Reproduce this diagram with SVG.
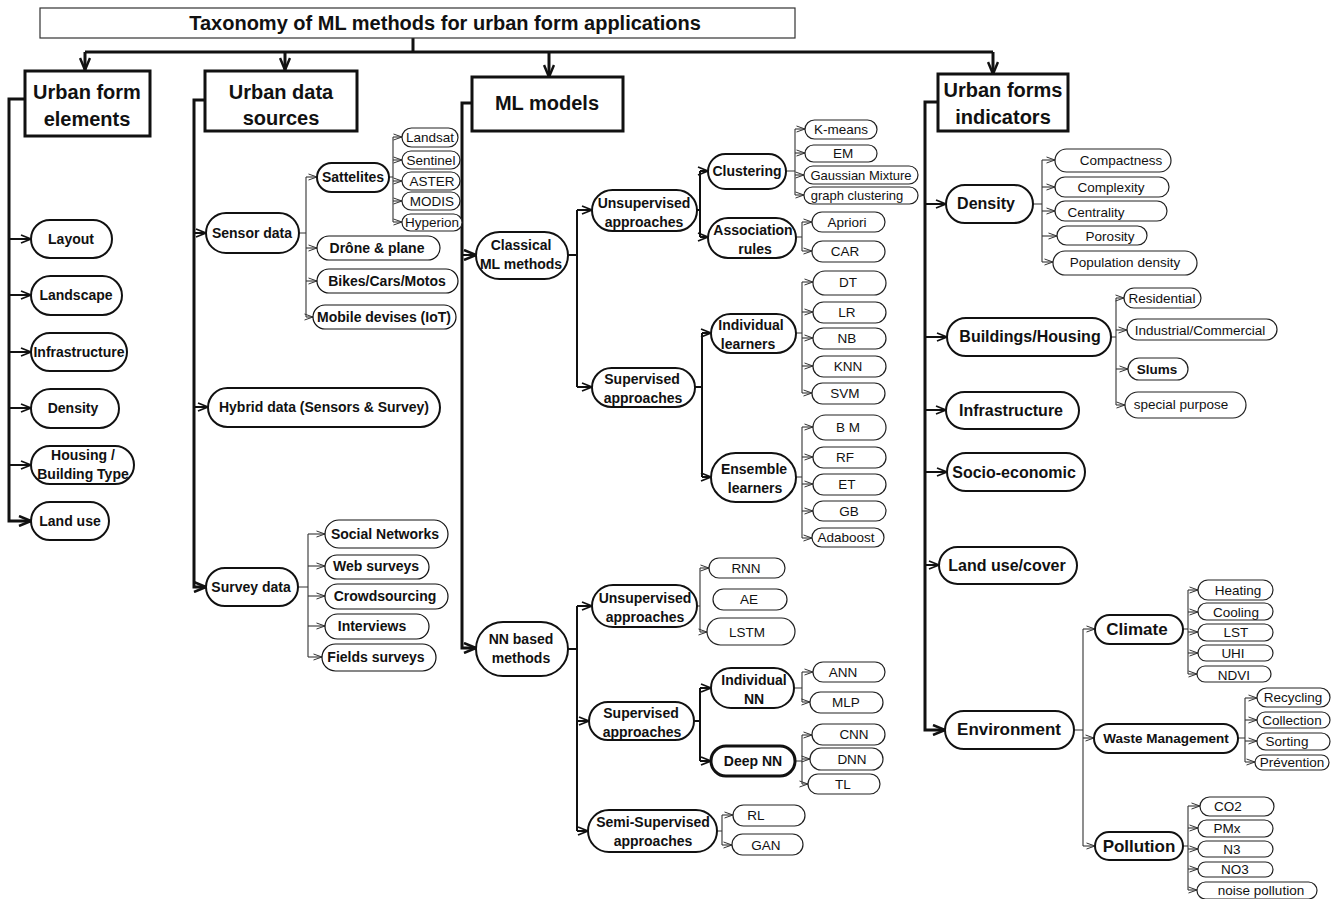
<svg xmlns="http://www.w3.org/2000/svg" width="1333" height="899" viewBox="0 0 1333 899">
<defs>
<style>
text{font-family:"Liberation Sans",Arial,sans-serif;text-anchor:middle;fill:#111}
.hdr rect{fill:#fff;stroke:#111;stroke-width:3}
.hdr text{font-size:20px;font-weight:bold}
.ttl rect{fill:#fff;stroke:#333;stroke-width:1.2}
.n rect{fill:#fff;stroke:#111;stroke-width:2}
.n text{font-size:14px;font-weight:bold}
.k rect{fill:#fff;stroke:#111;stroke-width:2}
.k text{font-size:16px;font-weight:bold}
.l rect{fill:#fff;stroke:#222;stroke-width:1.2}
.l text{font-size:13.5px}
.thick rect{stroke-width:3}
.c3{fill:none;stroke:#111;stroke-width:3}
.c2{fill:none;stroke:#111;stroke-width:2}
.c1{fill:none;stroke:#333;stroke-width:1.1}
</style>
<marker id="ahL" viewBox="0 0 14 12" refX="13" refY="6" markerWidth="14" markerHeight="12" markerUnits="userSpaceOnUse" orient="auto"><path d="M1,1 L13,6 L1,11" fill="none" stroke="#111" stroke-width="2.5"/></marker>
<marker id="ahM" viewBox="0 0 12 10" refX="11" refY="5" markerWidth="12" markerHeight="10" markerUnits="userSpaceOnUse" orient="auto"><path d="M1,1 L11,5 L1,9" fill="none" stroke="#111" stroke-width="1.8"/></marker>
<marker id="ahS" viewBox="0 0 10 8" refX="9.5" refY="4" markerWidth="10" markerHeight="8" markerUnits="userSpaceOnUse" orient="auto"><path d="M1,1 L9.5,4 L1,7" fill="none" stroke="#333" stroke-width="1"/></marker>
</defs>
<rect width="1333" height="899" fill="#fff"/>

<!-- connectors -->
<g id="connectors">
  <!-- title to the four branches -->
  <path class="c3" d="M413,38 V52 M85,52 H993"/>
  <path class="c3" marker-end="url(#ahL)" d="M85,52 V70"/>
  <path class="c3" marker-end="url(#ahL)" d="M285,52 V70"/>
  <path class="c3" marker-end="url(#ahL)" d="M549,52 V77"/>
  <path class="c3" marker-end="url(#ahL)" d="M993,52 V74"/>

  <!-- urban form elements -->
  <path class="c3" marker-end="url(#ahL)" d="M25,99 H9 V521 H31"/>
  <path class="c2" marker-end="url(#ahM)" d="M9,239 H31"/>
  <path class="c2" marker-end="url(#ahM)" d="M9,295 H31"/>
  <path class="c2" marker-end="url(#ahM)" d="M9,352 H31"/>
  <path class="c2" marker-end="url(#ahM)" d="M9,408 H31"/>
  <path class="c2" marker-end="url(#ahM)" d="M9,465 H31"/>

  <!-- urban data sources -->
  <path class="c3" marker-end="url(#ahL)" d="M205,100 H194 V587 H206"/>
  <path class="c2" marker-end="url(#ahM)" d="M194,233 H206"/>
  <path class="c2" marker-end="url(#ahM)" d="M194,407 H208"/>
  <path class="c1" d="M299,233 H306 M306,177 V317"/>
  <path class="c1" marker-end="url(#ahS)" d="M306,177 H317"/>
  <path class="c1" marker-end="url(#ahS)" d="M306,248 H317"/>
  <path class="c1" marker-end="url(#ahS)" d="M306,281 H317"/>
  <path class="c1" marker-end="url(#ahS)" d="M306,317 H313"/>
  <path class="c1" d="M389,177 H393 M393,137 V222"/>
  <path class="c1" marker-end="url(#ahS)" d="M393,137 H402"/>
  <path class="c1" marker-end="url(#ahS)" d="M393,160 H402"/>
  <path class="c1" marker-end="url(#ahS)" d="M393,181 H402"/>
  <path class="c1" marker-end="url(#ahS)" d="M393,201 H402"/>
  <path class="c1" marker-end="url(#ahS)" d="M393,222 H402"/>
  <path class="c1" d="M298,587 H308 M308,534 V657"/>
  <path class="c1" marker-end="url(#ahS)" d="M308,534 H325"/>
  <path class="c1" marker-end="url(#ahS)" d="M308,566 H325"/>
  <path class="c1" marker-end="url(#ahS)" d="M308,596 H325"/>
  <path class="c1" marker-end="url(#ahS)" d="M308,626 H325"/>
  <path class="c1" marker-end="url(#ahS)" d="M308,657 H322"/>

  <!-- ML models -->
  <path class="c3" marker-end="url(#ahL)" d="M472,103 H462 V648 H476"/>
  <path class="c2" marker-end="url(#ahL)" d="M462,255 H476"/>
  <path class="c2" d="M568,255 H577 M577,210 V387"/>
  <path class="c2" marker-end="url(#ahM)" d="M577,210 H592"/>
  <path class="c2" marker-end="url(#ahM)" d="M577,387 H592"/>
  <path class="c2" d="M697,210 H700 M700,171 V237"/>
  <path class="c2" marker-end="url(#ahM)" d="M700,171 H708"/>
  <path class="c2" marker-end="url(#ahM)" d="M700,237 H708"/>
  <path class="c1" d="M786,171 H795 M795,129 V195"/>
  <path class="c1" marker-end="url(#ahS)" d="M795,129 H805"/>
  <path class="c1" marker-end="url(#ahS)" d="M795,153 H805"/>
  <path class="c1" marker-end="url(#ahS)" d="M795,175 H804"/>
  <path class="c1" marker-end="url(#ahS)" d="M795,195 H804"/>
  <path class="c1" d="M796,237 H802 M802,222 V251"/>
  <path class="c1" marker-end="url(#ahS)" d="M802,222 H812"/>
  <path class="c1" marker-end="url(#ahS)" d="M802,251 H812"/>
  <path class="c2" d="M695,387 H702 M702,333 V477"/>
  <path class="c2" marker-end="url(#ahM)" d="M702,333 H711"/>
  <path class="c2" marker-end="url(#ahM)" d="M702,477 H711"/>
  <path class="c1" d="M796,333 H802 M802,282 V393"/>
  <path class="c1" marker-end="url(#ahS)" d="M802,282 H813"/>
  <path class="c1" marker-end="url(#ahS)" d="M802,312 H813"/>
  <path class="c1" marker-end="url(#ahS)" d="M802,338 H813"/>
  <path class="c1" marker-end="url(#ahS)" d="M802,366 H813"/>
  <path class="c1" marker-end="url(#ahS)" d="M802,393 H812"/>
  <path class="c1" d="M796,477 H802 M802,427 V538"/>
  <path class="c1" marker-end="url(#ahS)" d="M802,427 H813"/>
  <path class="c1" marker-end="url(#ahS)" d="M802,457 H813"/>
  <path class="c1" marker-end="url(#ahS)" d="M802,484 H813"/>
  <path class="c1" marker-end="url(#ahS)" d="M802,511 H813"/>
  <path class="c1" marker-end="url(#ahS)" d="M802,538 H812"/>

  <path class="c2" d="M568,649 H577 M577,606 V831"/>
  <path class="c2" marker-end="url(#ahM)" d="M577,606 H592"/>
  <path class="c2" marker-end="url(#ahM)" d="M577,721 H589"/>
  <path class="c2" marker-end="url(#ahM)" d="M577,831 H588"/>
  <path class="c1" d="M697,606 H700 M700,568 V632"/>
  <path class="c1" marker-end="url(#ahS)" d="M700,568 H709"/>
  <path class="c1" marker-end="url(#ahS)" d="M700,632 H707"/>
  <path class="c2" d="M694,721 H700 M700,688 V761"/>
  <path class="c2" marker-end="url(#ahM)" d="M700,688 H711"/>
  <path class="c2" marker-end="url(#ahM)" d="M700,761 H711"/>
  <path class="c1" d="M794,688 H802 M802,672 V702"/>
  <path class="c1" marker-end="url(#ahS)" d="M802,672 H813"/>
  <path class="c1" marker-end="url(#ahS)" d="M802,702 H810"/>
  <path class="c1" d="M795,761 H802 M802,735 V784"/>
  <path class="c1" marker-end="url(#ahS)" d="M802,735 H812"/>
  <path class="c1" marker-end="url(#ahS)" d="M802,759 H810"/>
  <path class="c1" marker-end="url(#ahS)" d="M802,784 H808"/>
  <path class="c1" d="M717,831 H722 M722,815 V845"/>
  <path class="c1" marker-end="url(#ahS)" d="M722,815 H733"/>
  <path class="c1" marker-end="url(#ahS)" d="M722,845 H732"/>

  <!-- urban forms indicators -->
  <path class="c3" marker-end="url(#ahL)" d="M938,102 H925 V730 H945"/>
  <path class="c2" marker-end="url(#ahM)" d="M925,204 H946"/>
  <path class="c2" marker-end="url(#ahM)" d="M925,337 H947"/>
  <path class="c2" marker-end="url(#ahM)" d="M925,410 H946"/>
  <path class="c2" marker-end="url(#ahM)" d="M925,472 H947"/>
  <path class="c2" marker-end="url(#ahM)" d="M925,565 H939"/>
  <path class="c1" d="M1033,204 H1042 M1042,160 V262"/>
  <path class="c1" marker-end="url(#ahS)" d="M1042,160 H1055"/>
  <path class="c1" marker-end="url(#ahS)" d="M1042,187 H1055"/>
  <path class="c1" marker-end="url(#ahS)" d="M1042,211 H1055"/>
  <path class="c1" marker-end="url(#ahS)" d="M1042,236 H1057"/>
  <path class="c1" marker-end="url(#ahS)" d="M1042,262 H1053"/>
  <path class="c1" d="M1111,337 H1116 M1116,298 V405"/>
  <path class="c1" marker-end="url(#ahS)" d="M1116,298 H1124"/>
  <path class="c1" marker-end="url(#ahS)" d="M1116,330 H1127"/>
  <path class="c1" marker-end="url(#ahS)" d="M1116,369 H1128"/>
  <path class="c1" marker-end="url(#ahS)" d="M1116,405 H1125"/>
  <path class="c1" d="M1074,730 H1083 M1083,629 V846"/>
  <path class="c1" marker-end="url(#ahS)" d="M1083,629 H1095"/>
  <path class="c1" marker-end="url(#ahS)" d="M1083,738 H1094"/>
  <path class="c1" marker-end="url(#ahS)" d="M1083,846 H1095"/>
  <path class="c1" d="M1183,629 H1188 M1188,590 V674"/>
  <path class="c1" marker-end="url(#ahS)" d="M1188,590 H1198"/>
  <path class="c1" marker-end="url(#ahS)" d="M1188,612 H1198"/>
  <path class="c1" marker-end="url(#ahS)" d="M1188,632 H1198"/>
  <path class="c1" marker-end="url(#ahS)" d="M1188,653 H1198"/>
  <path class="c1" marker-end="url(#ahS)" d="M1188,674 H1197"/>
  <path class="c1" d="M1238,738 H1245 M1245,698 V762"/>
  <path class="c1" marker-end="url(#ahS)" d="M1245,698 H1257"/>
  <path class="c1" marker-end="url(#ahS)" d="M1245,720 H1257"/>
  <path class="c1" marker-end="url(#ahS)" d="M1245,741 H1257"/>
  <path class="c1" marker-end="url(#ahS)" d="M1245,762 H1255"/>
  <path class="c1" d="M1183,846 H1188 M1188,806 V890"/>
  <path class="c1" marker-end="url(#ahS)" d="M1188,806 H1200"/>
  <path class="c1" marker-end="url(#ahS)" d="M1188,828 H1198"/>
  <path class="c1" marker-end="url(#ahS)" d="M1188,849 H1198"/>
  <path class="c1" marker-end="url(#ahS)" d="M1188,869 H1198"/>
  <path class="c1" marker-end="url(#ahS)" d="M1188,890 H1197"/>
</g>

<!-- title -->
<g id="title" class="ttl"><rect x="40" y="8" width="755" height="30"/><text x="445" y="30" style="font-size:20px;font-weight:bold">Taxonomy of ML methods for urban form applications</text></g>

<!-- branch headers -->
<g id="urban-form-elements" class="hdr"><rect x="25" y="71" width="125" height="65"/><text x="87" y="99">Urban form</text><text x="87" y="126">elements</text></g>
<g id="urban-data-sources" class="hdr"><rect x="205" y="71" width="152" height="60"/><text x="281" y="99">Urban data</text><text x="281" y="125">sources</text></g>
<g id="ml-models" class="hdr"><rect x="472" y="77" width="151" height="54"/><text x="547" y="110">ML models</text></g>
<g id="urban-forms-indicators" class="hdr"><rect x="938" y="74" width="130" height="57"/><text x="1003" y="97">Urban forms</text><text x="1003" y="124">indicators</text></g>

<!-- urban form elements -->
<g id="layout" class="n"><rect x="31" y="220" width="81" height="38" rx="19"/><text x="71" y="244">Layout</text></g>
<g id="landscape" class="n"><rect x="31" y="276" width="91" height="39" rx="19.5"/><text x="76" y="300">Landscape</text></g>
<g id="infrastructure-el" class="n"><rect x="31" y="333" width="96" height="38" rx="19"/><text x="79" y="357">Infrastructure</text></g>
<g id="density-el" class="n"><rect x="31" y="389" width="88" height="39" rx="19.5"/><text x="73" y="413">Density</text></g>
<g id="housing-type" class="n"><rect x="31" y="446" width="103" height="38" rx="19"/><text x="83" y="460">Housing /</text><text x="83" y="479">Building Type</text></g>
<g id="land-use-el" class="n"><rect x="31" y="502" width="78" height="38" rx="19"/><text x="70" y="526">Land use</text></g>

<!-- urban data sources -->
<g id="sensor-data" class="n"><rect x="206" y="213" width="93" height="40" rx="20"/><text x="252" y="238">Sensor data</text></g>
<g id="hybrid-data" class="n"><rect x="208" y="388" width="232" height="39" rx="19.5"/><text x="324" y="412">Hybrid data (Sensors &amp; Survey)</text></g>
<g id="survey-data" class="n"><rect x="206" y="568" width="92" height="38" rx="19"/><text x="251" y="592">Survey data</text></g>
<g id="sattelites" class="n"><rect x="317" y="163" width="72" height="29" rx="14.5"/><text x="353" y="182">Sattelites</text></g>
<g id="drone-plane" class="n"><rect x="317" y="236" width="123" height="24" rx="12" style="stroke-width:1.2"/><text x="377" y="253">Drône &amp; plane</text></g>
<g id="vehicles" class="n"><rect x="317" y="269" width="141" height="24" rx="12" style="stroke-width:1.2"/><text x="387" y="286">Bikes/Cars/Motos</text></g>
<g id="mobile-devices" class="n"><rect x="313" y="305" width="143" height="24" rx="12" style="stroke-width:1.2"/><text x="384" y="322">Mobile devises (IoT)</text></g>
<g id="landsat" class="l"><rect x="402" y="128" width="56" height="19" rx="9.5"/><text x="430" y="142">Landsat</text></g>
<g id="sentinel" class="l"><rect x="402" y="151" width="58" height="18" rx="9"/><text x="431" y="165">Sentinel</text></g>
<g id="aster" class="l"><rect x="402" y="172" width="58" height="18" rx="9"/><text x="432" y="186">ASTER</text></g>
<g id="modis" class="l"><rect x="402" y="192" width="58" height="18" rx="9"/><text x="432" y="206">MODIS</text></g>
<g id="hyperion" class="l"><rect x="402" y="214" width="60" height="17" rx="8.5"/><text x="432" y="227">Hyperion</text></g>
<g id="social-networks" class="n"><rect x="325" y="520" width="123" height="28" rx="14" style="stroke-width:1.2"/><text x="385" y="539">Social Networks</text></g>
<g id="web-surveys" class="n"><rect x="325" y="555" width="104" height="24" rx="12" style="stroke-width:1.2"/><text x="376" y="571">Web surveys</text></g>
<g id="crowdsourcing" class="n"><rect x="325" y="584" width="123" height="25" rx="12.5" style="stroke-width:1.2"/><text x="385" y="601">Crowdsourcing</text></g>
<g id="interviews" class="n"><rect x="325" y="614" width="104" height="25" rx="12.5" style="stroke-width:1.2"/><text x="372" y="631">Interviews</text></g>
<g id="fields-surveys" class="n"><rect x="322" y="644" width="114" height="27" rx="13.5" style="stroke-width:1.2"/><text x="376" y="662">Fields surveys</text></g>

<!-- ML models: classical -->
<g id="classical-ml" class="n"><rect x="476" y="232" width="92" height="47" rx="23.5"/><text x="521" y="250">Classical</text><text x="521" y="269">ML methods</text></g>
<g id="unsup-classical" class="n"><rect x="592" y="190" width="105" height="41" rx="20.5"/><text x="644" y="208">Unsupervised</text><text x="644" y="227">approaches</text></g>
<g id="sup-classical" class="n"><rect x="592" y="368" width="103" height="39" rx="19.5"/><text x="642" y="384">Supervised</text><text x="643" y="403">approaches</text></g>
<g id="clustering" class="n"><rect x="708" y="154" width="78" height="35" rx="17.5"/><text x="747" y="176">Clustering</text></g>
<g id="association-rules" class="n"><rect x="708" y="218" width="88" height="40" rx="20"/><text x="753" y="235">Association</text><text x="755" y="254">rules</text></g>
<g id="k-means" class="l"><rect x="805" y="120" width="72" height="19" rx="9.5"/><text x="841" y="134">K-means</text></g>
<g id="em" class="l"><rect x="805" y="145" width="72" height="17" rx="8.5"/><text x="843" y="158">EM</text></g>
<g id="gaussian-mixture" class="l"><rect x="804" y="166" width="114" height="18" rx="9"/><text x="861" y="180" style="font-size:13px">Gaussian Mixture</text></g>
<g id="graph-clustering" class="l"><rect x="804" y="187" width="114" height="17" rx="8.5"/><text x="857" y="200" style="font-size:13px">graph clustering</text></g>
<g id="apriori" class="l"><rect x="812" y="212" width="73" height="20" rx="10"/><text x="847" y="227">Apriori</text></g>
<g id="car" class="l"><rect x="812" y="241" width="73" height="21" rx="10.5"/><text x="845" y="256">CAR</text></g>
<g id="individual-learners" class="n"><rect x="711" y="314" width="85" height="39" rx="19.5"/><text x="751" y="330">Individual</text><text x="748" y="349">learners</text></g>
<g id="ensemble-learners" class="n"><rect x="711" y="453" width="85" height="49" rx="24.5"/><text x="754" y="474">Ensemble</text><text x="755" y="493">learners</text></g>
<g id="dt" class="l"><rect x="813" y="271" width="73" height="24" rx="12"/><text x="848" y="287">DT</text></g>
<g id="lr" class="l"><rect x="813" y="302" width="73" height="21" rx="10.5"/><text x="847" y="317">LR</text></g>
<g id="nb" class="l"><rect x="813" y="328" width="73" height="21" rx="10.5"/><text x="847" y="343">NB</text></g>
<g id="knn" class="l"><rect x="813" y="356" width="73" height="21" rx="10.5"/><text x="848" y="371">KNN</text></g>
<g id="svm" class="l"><rect x="812" y="383" width="73" height="21" rx="10.5"/><text x="845" y="398">SVM</text></g>
<g id="bm" class="l"><rect x="813" y="415" width="73" height="25" rx="12.5"/><text x="848" y="432">B M</text></g>
<g id="rf" class="l"><rect x="813" y="447" width="73" height="21" rx="10.5"/><text x="845" y="462">RF</text></g>
<g id="et" class="l"><rect x="813" y="474" width="73" height="21" rx="10.5"/><text x="847" y="489">ET</text></g>
<g id="gb" class="l"><rect x="813" y="501" width="73" height="20" rx="10"/><text x="849" y="516">GB</text></g>
<g id="adaboost" class="l"><rect x="812" y="528" width="72" height="19" rx="9.5"/><text x="846" y="542">Adaboost</text></g>

<!-- ML models: neural networks -->
<g id="nn-methods" class="n"><rect x="476" y="622" width="92" height="54" rx="27"/><text x="521" y="644">NN based</text><text x="521" y="663">methods</text></g>
<g id="unsup-nn" class="n"><rect x="592" y="585" width="105" height="42" rx="21"/><text x="645" y="603">Unsupervised</text><text x="645" y="622">approaches</text></g>
<g id="sup-nn" class="n"><rect x="589" y="702" width="105" height="38" rx="19"/><text x="641" y="718">Supervised</text><text x="642" y="737">approaches</text></g>
<g id="semi-sup" class="n"><rect x="588" y="810" width="129" height="42" rx="21"/><text x="653" y="827">Semi-Supervised</text><text x="653" y="846">approaches</text></g>
<g id="rnn" class="l"><rect x="709" y="558" width="76" height="20" rx="10"/><text x="746" y="573">RNN</text></g>
<g id="ae" class="l"><rect x="713" y="589" width="74" height="21" rx="10.5"/><text x="749" y="604">AE</text></g>
<g id="lstm" class="l"><rect x="707" y="618" width="88" height="27" rx="13.5"/><text x="747" y="637">LSTM</text></g>
<g id="individual-nn" class="n"><rect x="711" y="668" width="83" height="40" rx="20"/><text x="754" y="685">Individual</text><text x="754" y="704">NN</text></g>
<g id="deep-nn" class="n thick"><rect x="711" y="746" width="84" height="30" rx="15"/><text x="753" y="766">Deep NN</text></g>
<g id="ann" class="l"><rect x="813" y="662" width="72" height="20" rx="10"/><text x="843" y="677">ANN</text></g>
<g id="mlp" class="l"><rect x="810" y="692" width="73" height="21" rx="10.5"/><text x="846" y="707">MLP</text></g>
<g id="cnn" class="l"><rect x="812" y="724" width="73" height="21" rx="10.5"/><text x="854" y="739">CNN</text></g>
<g id="dnn" class="l"><rect x="810" y="748" width="73" height="22" rx="11"/><text x="852" y="764">DNN</text></g>
<g id="tl" class="l"><rect x="808" y="774" width="72" height="20" rx="10"/><text x="843" y="789">TL</text></g>
<g id="rl" class="l"><rect x="733" y="805" width="72" height="21" rx="10.5"/><text x="756" y="820">RL</text></g>
<g id="gan" class="l"><rect x="732" y="834" width="71" height="21" rx="10.5"/><text x="766" y="850">GAN</text></g>

<!-- urban forms indicators -->
<g id="density" class="k"><rect x="946" y="185" width="87" height="38" rx="19"/><text x="986" y="209">Density</text></g>
<g id="buildings-housing" class="k"><rect x="947" y="318" width="164" height="38" rx="19"/><text x="1030" y="342">Buildings/Housing</text></g>
<g id="infrastructure" class="k"><rect x="946" y="392" width="133" height="37" rx="18.5"/><text x="1011" y="416">Infrastructure</text></g>
<g id="socio-economic" class="k"><rect x="947" y="453" width="138" height="38" rx="19"/><text x="1014" y="478">Socio-economic</text></g>
<g id="land-use-cover" class="k"><rect x="939" y="547" width="138" height="37" rx="18.5"/><text x="1007" y="571">Land use/cover</text></g>
<g id="environment" class="k"><rect x="945" y="711" width="129" height="38" rx="19"/><text x="1009" y="735" style="font-size:17px">Environment</text></g>
<g id="compactness" class="l"><rect x="1055" y="149" width="116" height="23" rx="11.5"/><text x="1121" y="165">Compactness</text></g>
<g id="complexity" class="l"><rect x="1055" y="177" width="114" height="20" rx="10"/><text x="1111" y="192">Complexity</text></g>
<g id="centrality" class="l"><rect x="1055" y="201" width="112" height="20" rx="10"/><text x="1096" y="217">Centrality</text></g>
<g id="porosity" class="l"><rect x="1057" y="226" width="90" height="19" rx="9.5"/><text x="1110" y="241">Porosity</text></g>
<g id="population-density" class="l"><rect x="1053" y="251" width="144" height="24" rx="12"/><text x="1125" y="267">Population density</text></g>
<g id="residential" class="l"><rect x="1124" y="288" width="77" height="20" rx="10"/><text x="1162" y="303">Residential</text></g>
<g id="industrial-commercial" class="l"><rect x="1127" y="319" width="150" height="21" rx="10.5"/><text x="1200" y="335">Industrial/Commercial</text></g>
<g id="slums" class="l"><rect x="1128" y="358" width="60" height="22" rx="11"/><text x="1157" y="374" style="font-weight:bold">Slums</text></g>
<g id="special-purpose" class="l"><rect x="1125" y="392" width="121" height="26" rx="13"/><text x="1181" y="409">special purpose</text></g>
<g id="climate" class="k"><rect x="1095" y="615" width="88" height="29" rx="14.5"/><text x="1137" y="635" style="font-size:17px">Climate</text></g>
<g id="waste-management" class="k"><rect x="1094" y="724" width="144" height="29" rx="14.5"/><text x="1166" y="743" style="font-size:13.5px">Waste Management</text></g>
<g id="pollution" class="k"><rect x="1095" y="832" width="88" height="28" rx="14"/><text x="1139" y="852" style="font-size:17px">Pollution</text></g>
<g id="heating" class="l"><rect x="1198" y="580" width="75" height="20" rx="10"/><text x="1238" y="595">Heating</text></g>
<g id="cooling" class="l"><rect x="1198" y="603" width="75" height="17" rx="8.5"/><text x="1236" y="617">Cooling</text></g>
<g id="lst" class="l"><rect x="1198" y="624" width="75" height="17" rx="8.5"/><text x="1236" y="637">LST</text></g>
<g id="uhi" class="l"><rect x="1198" y="645" width="75" height="16" rx="8"/><text x="1233" y="658">UHI</text></g>
<g id="ndvi" class="l"><rect x="1197" y="666" width="74" height="16" rx="8"/><text x="1234" y="680">NDVI</text></g>
<g id="recycling" class="l"><rect x="1257" y="688" width="73" height="19" rx="9.5"/><text x="1293" y="702">Recycling</text></g>
<g id="collection" class="l"><rect x="1257" y="712" width="73" height="16" rx="8"/><text x="1292" y="725">Collection</text></g>
<g id="sorting" class="l"><rect x="1257" y="733" width="73" height="17" rx="8.5"/><text x="1287" y="746">Sorting</text></g>
<g id="prevention" class="l"><rect x="1255" y="755" width="74" height="15" rx="7.5"/><text x="1292" y="767">Prévention</text></g>
<g id="co2" class="l"><rect x="1200" y="797" width="74" height="19" rx="9.5"/><text x="1228" y="811">CO2</text></g>
<g id="pmx" class="l"><rect x="1198" y="820" width="75" height="17" rx="8.5"/><text x="1227" y="833">PMx</text></g>
<g id="n3" class="l"><rect x="1198" y="841" width="75" height="16" rx="8"/><text x="1232" y="854">N3</text></g>
<g id="no3" class="l"><rect x="1198" y="862" width="75" height="15" rx="7.5"/><text x="1235" y="874">NO3</text></g>
<g id="noise-pollution" class="l"><rect x="1197" y="882" width="120" height="17" rx="8.5"/><text x="1261" y="895">noise pollution</text></g>
</svg>
